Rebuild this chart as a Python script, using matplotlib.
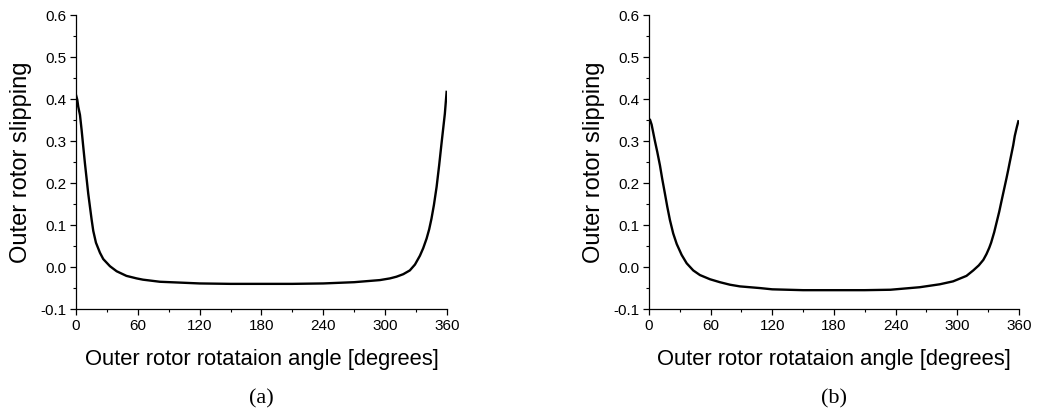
import numpy as np
import matplotlib
matplotlib.use("Agg")
import matplotlib.pyplot as plt
from matplotlib.ticker import MultipleLocator, FormatStrFormatter

# values
angle_a = [0, 1.3, 2.2, 3.9, 5.5, 7.1, 8.7, 10.4, 11.9, 13.6, 15.2, 16.8, 19.4, 23.3, 26.5,
           33, 39.5, 49, 58.9, 65, 81.5, 101, 120, 150, 180, 210, 240, 270, 295, 304.7,
           311, 317.6, 324, 329, 333.8, 337, 340.3, 342.8, 345, 347.4, 350, 352.5, 354.8,
           358, 359.7]
slip_a = [0.41, 0.398, 0.382, 0.362, 0.326, 0.286, 0.247, 0.209, 0.175, 0.143, 0.113, 0.086,
          0.058, 0.034, 0.019, 0.002, -0.010, -0.021, -0.027, -0.030, -0.035, -0.037, -0.039,
          -0.040, -0.040, -0.040, -0.039, -0.036, -0.031, -0.027, -0.023, -0.017, -0.008,
          0.006, 0.027, 0.045, 0.068, 0.090, 0.115, 0.148, 0.191, 0.243, 0.295, 0.365, 0.417]

angle_b = [0, 1, 2.6, 5.8, 8.1, 10.7, 12.9, 15.6, 17.8, 20.4, 23.6, 27, 31.8, 36.7, 43.1,
           49.6, 59.4, 69, 78.8, 88.5, 108, 120, 150, 180, 210, 235, 263.5, 283, 296, 309,
           315.6, 321, 325.4, 328.5, 331.2, 333, 336, 338, 340.9, 343, 345.5, 348, 349.7,
           351, 354.5, 356, 358, 359.5]
slip_b = [0.352, 0.351, 0.339, 0.30, 0.274, 0.242, 0.210, 0.174, 0.144, 0.112, 0.080, 0.055,
          0.029, 0.009, -0.008, -0.019, -0.029, -0.036, -0.042, -0.046, -0.050, -0.053,
          -0.055, -0.055, -0.055, -0.054, -0.048, -0.041, -0.034, -0.021, -0.008, 0.004,
          0.017, 0.031, 0.046, 0.058, 0.083, 0.103, 0.132, 0.156, 0.184, 0.212, 0.232,
          0.248, 0.290, 0.312, 0.333, 0.347]

xticks = [0, 60, 120, 180, 240, 300, 360]
captions = ["(a)", "(b)"]

plt.rcParams['font.family'] = ['Liberation Sans', 'DejaVu Sans']

fig = plt.figure(figsize=(10.42, 4.11), dpi=100)
ax1 = fig.add_axes([0.0729, 0.248, 0.356, 0.7155])
ax2 = fig.add_axes([0.6228, 0.248, 0.355, 0.7155])

for ax, x, y, cap in [(ax1, angle_a, slip_a, captions[0]), (ax2, angle_b, slip_b, captions[1])]:
    ax.plot(x, y, color='black', linewidth=1.7, solid_joinstyle='round')
    ax.set_xlim(0, 360)
    ax.set_ylim(-0.1, 0.6)
    ax.spines['top'].set_visible(False)
    ax.spines['right'].set_visible(False)
    ax.spines['left'].set_linewidth(0.9)
    ax.spines['bottom'].set_linewidth(0.9)
    ax.set_xticks(xticks)
    ax.xaxis.set_minor_locator(MultipleLocator(30))
    ax.yaxis.set_major_locator(MultipleLocator(0.1))
    ax.yaxis.set_minor_locator(MultipleLocator(0.05))
    ax.yaxis.set_major_formatter(FormatStrFormatter('%.1f'))
    ax.tick_params(which='major', direction='out', length=4, width=0.9, labelsize=11, pad=3)
    ax.tick_params(which='minor', direction='out', length=2, width=0.8)
    ax.set_xlabel('Outer rotor rotataion angle [degrees]', fontsize=15.8, labelpad=12)
    ax.set_ylabel('Outer rotor slipping', fontsize=17, labelpad=6)
    ax.text(0.5, -0.305, cap, transform=ax.transAxes, ha='center', va='center',
            fontsize=16, family=['Liberation Serif', 'DejaVu Serif'])

fig.savefig('out.png', dpi=100)
